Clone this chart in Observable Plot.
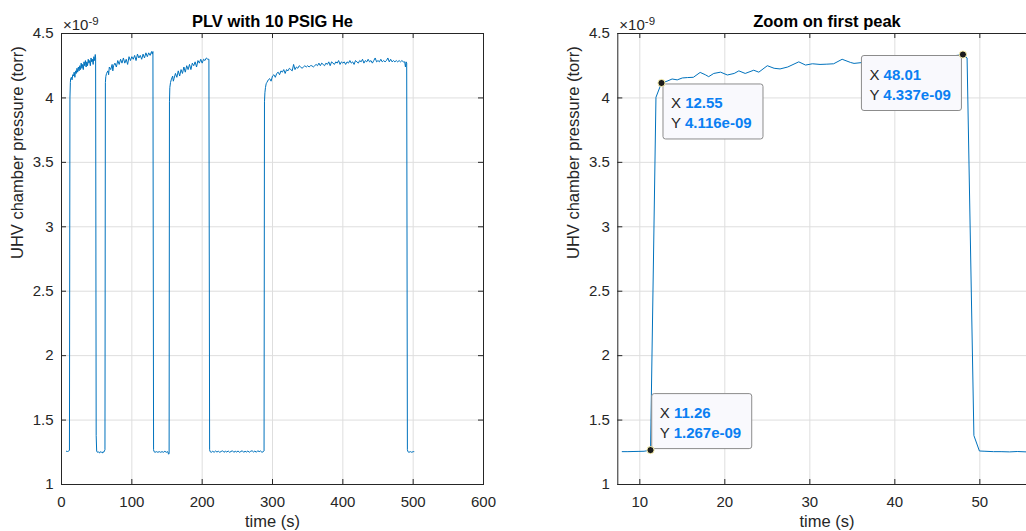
<!DOCTYPE html>
<html><head><meta charset="utf-8">
<script src="https://cdn.jsdelivr.net/npm/d3@7"></script>
<script src="https://cdn.jsdelivr.net/npm/@observablehq/plot@0.6"></script>
<style>
html,body{margin:0;padding:0;background:#fff;overflow:hidden;width:1026px;height:531px;}
#wrap{position:relative;width:1026px;height:531px;overflow:hidden;}
#left{position:absolute;left:0;top:0;width:500px;height:531px;}
#right{position:absolute;left:540px;top:0;width:500px;height:531px;}
#wrap svg{max-width:none !important;display:block;}
</style></head><body><div id="wrap"><div id="left"></div><div id="right"></div></div>
<script>
// ---------- DATA (pressure in units of 1e-9 torr, time in s) ----------
const titles = ["PLV with 10 PSIG He", "Zoom on first peak"];
const xLabel = "time (s)";
const yLabel = "UHV chamber pressure (torr)";
const exponentBase = "×10";
const exponentPower = "-9";
const yTicks = [1, 1.5, 2, 2.5, 3, 3.5, 4, 4.5];
const leftXTicks = [0, 100, 200, 300, 400, 500, 600];
const rightXTicks = [10, 20, 30, 40, 50];

// Overview run as [time, pressure] samples
const baseline0 = [[7,1.258],[8.5,1.256],[10,1.258],[11.3,1.267]];
const pulse1 = [[12,4.0],[12.6,4.12],[13,4.15],[14,4.16],[15,4.14],[16,4.18],[17,4.17],[18,4.20],[19,4.16],[20,4.21],[21,4.19],[22,4.23],[23,4.20],[24,4.24],[25,4.21],[26,4.25],[27,4.22],[28,4.27],[29,4.23],[30,4.26],[31,4.22],[32,4.28],[33,4.25],[34,4.29],[35,4.24],[36,4.28],[37,4.25],[38,4.30],[39,4.27],[40,4.29],[41,4.25],[42,4.31],[43,4.28],[44,4.30],[45,4.26],[46,4.32],[47,4.29],[48,4.337],[48.5,4.31]];
const baseline1 = [[49.3,1.38],[50,1.26],[51,1.25],[52,1.255],[53,1.25],[54,1.245],[55,1.255],[56,1.25],[57,1.25],[58,1.245],[59,1.255],[60,1.25],[61,1.26],[61.8,1.27]];
const pulse2 = [[62.4,4.12],[63,4.165],[64,4.19],[66,4.21],[67,4.18],[68,4.24],[70,4.22],[72,4.26],[73,4.21],[74,4.25],[76,4.27],[78,4.24],[80,4.29],[82,4.26],[84,4.30],[86,4.27],[88,4.31],[90,4.27],[92,4.30],[94,4.26],[96,4.32],[98,4.29],[100,4.32],[102,4.30],[104,4.33],[106,4.29],[108,4.34],[110,4.31],[112,4.33],[114,4.30],[116,4.34],[118,4.31],[120,4.35],[122,4.32],[124,4.35],[126,4.33],[128,4.36],[129,4.34],[130,4.36]];
const baseline2 = [[130.9,1.27],[131.6,1.255],[133,1.25],[135,1.255],[137,1.25],[139,1.255],[141,1.25],[143,1.255],[145,1.25],[147,1.258],[149,1.25],[151,1.255],[152.3,1.235],[153,1.24]];
const pulse3 = [[153.5,3.97],[154,4.08],[155,4.12],[156,4.14],[158,4.17],[159,4.13],[160,4.15],[162,4.19],[164,4.16],[166,4.21],[168,4.17],[170,4.22],[172,4.19],[174,4.24],[176,4.20],[178,4.25],[180,4.22],[182,4.26],[184,4.22],[186,4.27],[188,4.25],[190,4.28],[192,4.24],[194,4.29],[196,4.27],[198,4.30],[200,4.27],[202,4.30],[204,4.29],[206,4.31],[208,4.30],[209.6,4.30]];
const baseline3 = [[210.6,1.27],[211.3,1.255],[213,1.25],[215,1.258],[217,1.25],[219,1.26],[221,1.252],[223,1.258],[225,1.25],[227,1.256],[229,1.262],[231,1.25],[233,1.258],[235,1.252],[237,1.26],[239,1.25],[241,1.256],[243,1.262],[245,1.25],[247,1.258],[249,1.252],[251,1.26],[253,1.25],[255,1.256],[257,1.262],[259,1.25],[261,1.258],[263,1.252],[265,1.26],[267,1.25],[269,1.258],[271,1.262],[273,1.252],[275,1.26],[277,1.25],[279,1.262],[281,1.255],[283,1.26],[285,1.25],[287,1.255],[288,1.26]];
const pulse4 = [[288.6,3.97],[289.2,4.04],[290,4.08],[291,4.11],[292,4.12],[294,4.14],[296,4.15],[298,4.13],[300,4.17],[302,4.18],[304,4.16],[306,4.19],[308,4.20],[310,4.18],[312,4.21],[314,4.20],[316,4.22],[318,4.19],[320,4.22],[322,4.21],[324,4.23],[326,4.22],[328,4.21],[330,4.26],[332,4.22],[334,4.24],[336,4.23],[338,4.25],[340,4.24],[342,4.23],[344,4.24],[346,4.25],[348,4.24],[350,4.25],[352,4.24],[354,4.25],[356,4.25],[358,4.24],[360,4.25],[362,4.26],[364,4.25],[366,4.27],[368,4.25],[370,4.27],[372,4.26],[374,4.25],[376,4.27],[378,4.26],[380,4.28],[382,4.25],[384,4.28],[386,4.27],[388,4.26],[390,4.28],[392,4.27],[394,4.29],[396,4.26],[398,4.28],[400,4.27],[402,4.28],[404,4.26],[406,4.28],[408,4.27],[410,4.29],[412,4.27],[414,4.28],[416,4.26],[418,4.29],[420,4.28],[422,4.27],[424,4.29],[426,4.28],[428,4.30],[430,4.27],[432,4.29],[434,4.28],[436,4.30],[438,4.28],[440,4.29],[442,4.27],[444,4.29],[446,4.31],[448,4.28],[450,4.29],[452,4.28],[454,4.30],[456,4.28],[458,4.29],[460,4.28],[462,4.29],[464,4.31],[466,4.28],[468,4.30],[470,4.28],[472,4.29],[474,4.28],[476,4.29],[478,4.28],[480,4.29],[482,4.28],[484,4.29],[486,4.28],[488,4.28],[489,4.24],[490,4.28],[490.8,4.27]];
const baseline4 = [[491.8,1.27],[492.5,1.255],[494,1.25],[496,1.255],[498,1.25],[500,1.255],[501,1.255]];

// Zoomed first pulse
const zoomTime = [7.93,8.6,9.2,9.9,10.5,11.26,11.9,12.55,13.2,13.8,14.4,15.0,15.6,16.3,17.1,17.7,18.1,18.7,19.5,20.3,21.1,21.65,22.4,23.4,24.0,25.0,25.8,26.5,27.4,28.7,29.5,30.3,31.2,32.0,32.8,33.8,34.8,35.2,36.2,37.2,38.3,39.4,40.5,41.6,42.8,43.9,45.0,45.4,46.4,47.3,48.01,48.5,49.3,49.95,50.6,51.6,52.5,53.5,54.4,55.5,56.6];
const zoomPressure = [1.255,1.255,1.256,1.257,1.258,1.267,4.005,4.116,4.13,4.147,4.14,4.155,4.158,4.16,4.198,4.18,4.165,4.19,4.20,4.178,4.19,4.21,4.19,4.215,4.20,4.25,4.23,4.225,4.24,4.28,4.255,4.265,4.26,4.262,4.265,4.30,4.275,4.268,4.275,4.28,4.29,4.285,4.30,4.31,4.305,4.32,4.325,4.328,4.325,4.33,4.337,4.31,1.38,1.26,1.258,1.255,1.255,1.253,1.256,1.253,1.254];

// Data tips shown on the zoom panel
const tipTime = [12.55, 48.01, 11.26];
const tipPressure = [4.116, 4.337, 1.267];
const tipXText = ["12.55", "48.01", "11.26"];
const tipYText = ["4.116e-09", "4.337e-09", "1.267e-09"];

// ---------- BUILD ----------
const overview = [baseline0, pulse1, baseline1, pulse2, baseline2, pulse3, baseline3, pulse4, baseline4]
  .flat().map(([t, p]) => ({t, p}));
const zoom = zoomTime.map((t, i) => ({t, p: zoomPressure[i]}));
const tips = tipTime.map((t, i) => ({t, p: tipPressure[i], xs: tipXText[i], ys: tipYText[i]}));

const FONT = "'Liberation Sans', Arial, Helvetica, sans-serif";
const INK = "#262626";
const LINE = "#0072BD";
const GRID = "#dedede";
const H = 531, MT = 33, MB = 47;

// tip box placement relative to the marker (screen offsets)
const tipPlacement = [
  {dx: 2, dy: 1.5, alignRight: false, above: false},
  {dx: -1, dy: 1.5, alignRight: true, above: false},
  {dx: 1.7, dy: -1, alignRight: false, above: true}
];

function datatips(list) {
  return (index, scales) => {
    const g = d3.create("svg:g").attr("font-family", FONT).attr("font-size", 15).attr("text-anchor", "start");
    const bw = 100, bh = 55;
    list.forEach((d, i) => {
      const pl = tipPlacement[i];
      const px = scales.x(d.t), py = scales.y(d.p);
      const bx = pl.alignRight ? px + pl.dx - bw : px + pl.dx;
      const by = pl.above ? py + pl.dy - bh : py + pl.dy;
      g.append("rect").attr("x", bx).attr("y", by).attr("width", bw).attr("height", bh)
        .attr("rx", 2.5).attr("fill", "#f9f9fd").attr("stroke", "#8c8c8c").attr("stroke-width", 1);
      const lines = [["X ", d.xs], ["Y ", d.ys]];
      lines.forEach(([k, v], j) => {
        const t = g.append("text").attr("x", bx + 8).attr("y", by + 24 + j * 20).attr("text-anchor", "start");
        t.append("tspan").attr("fill", INK).text(k);
        t.append("tspan").attr("fill", "#0a7ff2").attr("font-weight", "bold").text(v);
      });
    });
    return g.node();
  };
}

function panel({width, marginLeft, marginRight, xDomain, xTicks, data, title, tipsData}) {
  const frameH = H - MT - MB;
  const frameW = width - marginLeft - marginRight;
  const marks = [
    Plot.gridX(xTicks, {stroke: GRID, strokeOpacity: 1}),
    Plot.gridY(yTicks, {stroke: GRID, strokeOpacity: 1}),
    Plot.line(data, {x: "t", y: "p", stroke: LINE, strokeWidth: 1}),
    Plot.frame({stroke: INK, strokeWidth: 1}),
    Plot.tickX(xTicks, {x: d => d, insetTop: frameH - 5, stroke: INK}),
    Plot.tickX(xTicks, {x: d => d, insetBottom: frameH - 5, stroke: INK}),
    Plot.tickY(yTicks, {y: d => d, insetRight: frameW - 5, stroke: INK}),
    Plot.tickY(yTicks, {y: d => d, insetLeft: frameW - 5, stroke: INK}),
    Plot.axisX({ticks: xTicks, tickSize: 0, tickPadding: 12, label: null, tickFormat: d => String(d), fill: INK}),
    Plot.axisY({ticks: yTicks, tickSize: 0, tickPadding: 8, label: null, tickFormat: d => String(d), fill: INK}),
    Plot.text([title], {frameAnchor: "top", lineAnchor: "bottom", dy: -6.3, fontWeight: "bold", fontSize: 16.5, fill: "#000"}),
    Plot.text([xLabel], {frameAnchor: "bottom", lineAnchor: "bottom", dy: 42.5, fontSize: 16.5, fill: INK}),
    Plot.text([yLabel], {frameAnchor: "left", lineAnchor: "bottom", rotate: -90, dx: -38.5, fontSize: 16.5, fill: INK}),
    Plot.text([exponentBase], {frameAnchor: "top-left", textAnchor: "start", lineAnchor: "bottom", dx: 1.5, dy: -3.7, fontSize: 15, fill: INK}),
    Plot.text([exponentPower], {frameAnchor: "top-left", textAnchor: "start", lineAnchor: "bottom", dx: 27, dy: -8.5, fontSize: 11.5, fill: INK})
  ];
  if (tipsData) {
    marks.push(datatips(tipsData));
    marks.push(Plot.dot(tipsData, {x: "t", y: "p", r: 3.6, fill: "#1c1c1c", stroke: "#fff6b0", strokeWidth: 1}));
  }
  return Plot.plot({
    width, height: H,
    marginLeft, marginRight, marginTop: MT, marginBottom: MB,
    x: {domain: xDomain},
    y: {domain: [1, 4.5]},
    style: {fontFamily: FONT, fontSize: "15px", color: INK, background: "transparent", overflow: "visible", maxWidth: "none"},
    marks
  });
}

document.getElementById("left").append(panel({
  width: 500, marginLeft: 61, marginRight: 17, xDomain: [0, 600], xTicks: leftXTicks,
  data: overview, title: titles[0]
}));
document.getElementById("right").append(panel({
  width: 500, marginLeft: 77.3, marginRight: 4.3, xDomain: [7.41, 56.63], xTicks: rightXTicks,
  data: zoom, title: titles[1], tipsData: tips
}));
</script>
</body></html>
